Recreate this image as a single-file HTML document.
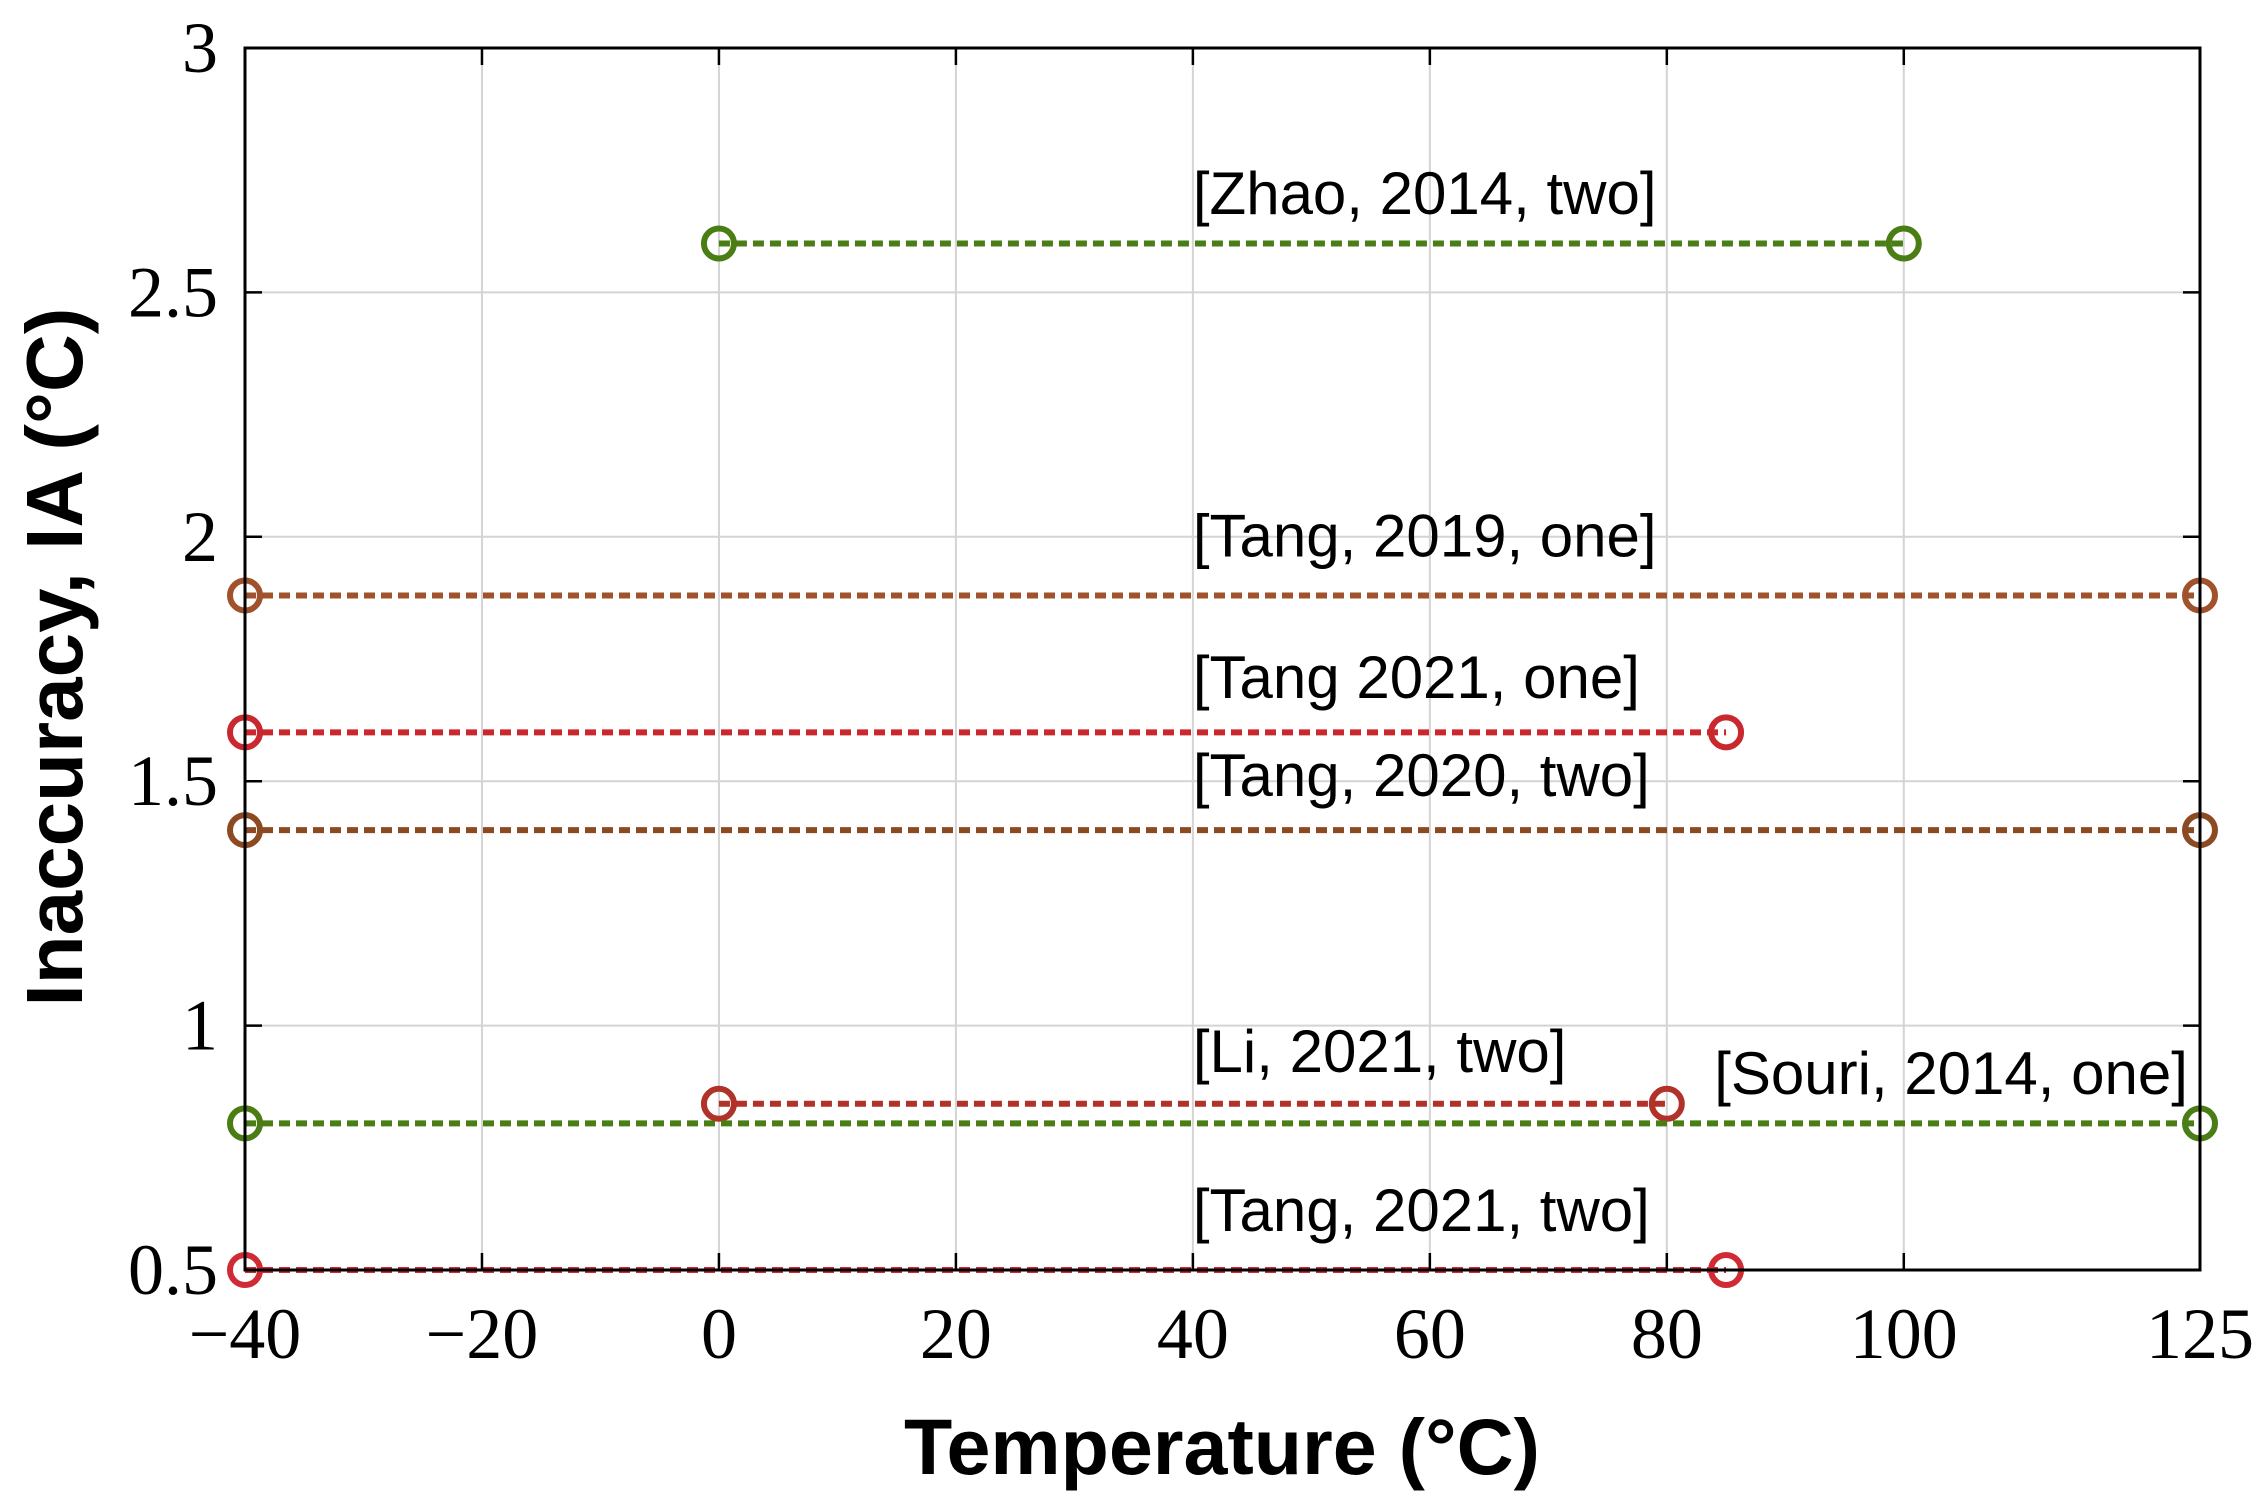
<!DOCTYPE html>
<html><head><meta charset="utf-8"><style>
html,body{margin:0;padding:0;background:#fff;}
svg{display:block;}
.tick{font-family:"Liberation Serif",serif;font-size:72px;fill:#000;}
.ann{font-family:"Liberation Sans",sans-serif;font-size:60px;fill:#000;}
.title{font-family:"Liberation Sans",sans-serif;font-weight:bold;font-size:79px;fill:#000;}
.ytitle{font-family:"Liberation Sans",sans-serif;font-weight:bold;font-size:80px;fill:#000;}
</style></head><body>
<svg id="chart" width="2263" height="1506" viewBox="0 0 2263 1506" xmlns="http://www.w3.org/2000/svg">
<g id="grid"></g>
<g id="series"></g>
<g id="axes"></g>
<text class="title" x="1222" y="1474" text-anchor="middle">Temperature (°C)</text>
<text class="ytitle" transform="translate(82,657) rotate(-90)" text-anchor="middle">Inaccuracy, IA (°C)</text>
</svg>
<script>
const xTicks=[-40,-20,0,20,40,60,80,100,125];
const yTicks=[0.5,1,1.5,2,2.5,3];
const yTickLabels=["0.5","1","1.5","2","2.5","3"];
const seriesNames=["[Zhao, 2014, two]","[Tang, 2019, one]","[Tang 2021, one]","[Tang, 2020, two]","[Li, 2021, two]","[Souri, 2014, one]","[Tang, 2021, two]"];
const seriesStart=[0,-40,-40,-40,0,-40,-40];
const seriesEnd=[100,125,85,125,80,125,85];
const seriesValue=[2.6,1.88,1.6,1.4,0.84,0.8,0.5];
const seriesColor=["#4a7d14","#a0522d","#c8282e","#8b4a22","#b03228","#4a7d14","#d02a35"];
const labelX=[40,40,40,40,40,84,40];
const labelY=[2.66,1.96,1.67,1.47,0.905,0.86,0.58];

const L=245,R=2200,T=48,B=1270;
const xs=v=>L+(v+40)/165*(R-L);
const ys=v=>B-(v-0.5)/2.5*(B-T);
const NS="http://www.w3.org/2000/svg";
function mk(tag,attrs,parent){const e=document.createElementNS(NS,tag);for(const k in attrs)e.setAttribute(k,attrs[k]);parent.appendChild(e);return e;}
const grid=document.getElementById('grid'),axes=document.getElementById('axes'),ser=document.getElementById('series');
xTicks.forEach((t,i)=>{
 const x=xs(t);
 const g=mk('line',{x1:x,x2:x,y1:T,y2:B,stroke:'#d4d4d4','stroke-width':2},grid);
 
 
 const tk=mk('line',{x1:x,x2:x,y1:B,y2:B-17,stroke:'#000','stroke-width':2.5},axes);
 
 
 const tk2=mk('line',{x1:x,x2:x,y1:T,y2:T+17,stroke:'#000','stroke-width':2.5},axes);
 
 
 const lb=mk('text',{x:x,y:1358,'text-anchor':'middle',class:'tick'},axes);
 lb.textContent=t<0?'\u2212'+Math.abs(t):String(t);
 
 
});
yTicks.forEach((t,i)=>{
 const y=ys(t);
 const g=mk('line',{x1:L,x2:R,y1:y,y2:y,stroke:'#d4d4d4','stroke-width':2},grid);
 
 
 const tk=mk('line',{x1:L,x2:L+17,y1:y,y2:y,stroke:'#000','stroke-width':2.5},axes);
 
 
 const tk2=mk('line',{x1:R,x2:R-17,y1:y,y2:y,stroke:'#000','stroke-width':2.5},axes);
 
 
 const lb=mk('text',{x:218,y:y+24,'text-anchor':'end',class:'tick'},axes);
 lb.textContent=yTickLabels[i];
 
 
});
const box=mk('rect',{x:L,y:T,width:R-L,height:B-T,fill:'none',stroke:'#000','stroke-width':3},axes);


seriesNames.forEach((n,i)=>{
 const y=ys(seriesValue[i]),x1=xs(seriesStart[i]),x2=xs(seriesEnd[i]);
 const ln=mk('line',{x1:x1,x2:x2,y1:y,y2:y,stroke:seriesColor[i],'stroke-width':6,'stroke-dasharray':'11 6'},ser);
 
 
 [x1,x2].forEach(x=>{
  const c=mk('circle',{cx:x,cy:y,r:15,fill:'none',stroke:seriesColor[i],'stroke-width':6},ser);
  
  
 });
 const t=mk('text',{x:xs(labelX[i]),y:ys(labelY[i]),class:'ann'},ser);
 t.textContent=n;
 
 
});
</script>
</body></html>
